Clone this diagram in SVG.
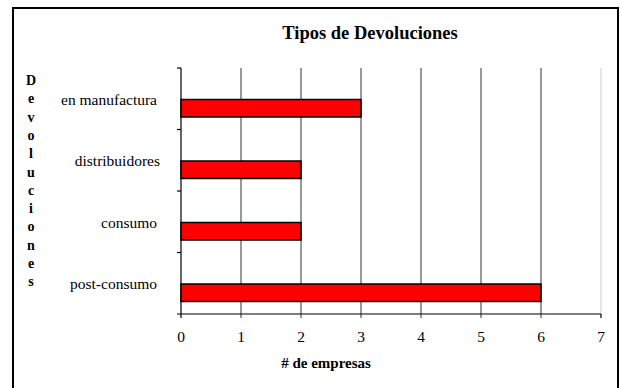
<svg xmlns="http://www.w3.org/2000/svg" width="620" height="388" viewBox="0 0 620 388">
<style>
.lbl{font-family:"Liberation Serif","Times New Roman",serif;font-size:15.5px;fill:#000}
.bold{font-family:"Liberation Serif","Times New Roman",serif;font-weight:bold;fill:#000}
.grid{stroke:#333;stroke-width:1}
.bar{fill:#FF0000;stroke:#000;stroke-width:1.5}
.axis{stroke:#000;stroke-width:1.2}
</style>
<rect x="0" y="0" width="620" height="388" fill="#fff"/>
<rect x="13" y="8" width="605" height="390" fill="#fff" stroke="#000" stroke-width="2"/>
<g id="title"><text class="bold" x="370" y="39" font-size="18.5" text-anchor="middle">Tipos de Devoluciones</text></g>
<g id="grid">
<line class="grid" x1="241" y1="68" x2="241" y2="318"/>
<line class="grid" x1="301" y1="68" x2="301" y2="318"/>
<line class="grid" x1="361" y1="68" x2="361" y2="318"/>
<line class="grid" x1="421" y1="68" x2="421" y2="318"/>
<line class="grid" x1="481" y1="68" x2="481" y2="318"/>
<line class="grid" x1="541" y1="68" x2="541" y2="318"/>
<line x1="601" y1="68" x2="601" y2="314" stroke="#ccc" stroke-width="1"/>
<line class="axis" x1="601" y1="314" x2="601" y2="318"/>
</g>
<g id="axes">
<line class="axis" x1="181" y1="68" x2="181" y2="318"/>
<line class="axis" x1="177" y1="314" x2="601" y2="314"/>
<line class="axis" x1="177" y1="68" x2="181" y2="68"/>
<line class="axis" x1="177" y1="129.5" x2="181" y2="129.5"/>
<line class="axis" x1="177" y1="191" x2="181" y2="191"/>
<line class="axis" x1="177" y1="252.5" x2="181" y2="252.5"/>
</g>
<g id="bar-en-manufactura"><rect class="bar" x="181" y="99.5" width="180" height="17.5"/><text class="lbl" x="157" y="104.5" text-anchor="end">en manufactura</text></g>
<g id="bar-distribuidores"><rect class="bar" x="181" y="161" width="120" height="17.5"/><text class="lbl" x="160" y="166" text-anchor="end">distribuidores</text></g>
<g id="bar-consumo"><rect class="bar" x="181" y="222.5" width="120" height="17.5"/><text class="lbl" x="157" y="227.5" text-anchor="end">consumo</text></g>
<g id="bar-post-consumo"><rect class="bar" x="181" y="284" width="360" height="17.5"/><text class="lbl" x="157" y="289" text-anchor="end">post-consumo</text></g>
<g id="x-ticks" class="lbl" text-anchor="middle">
<text x="181" y="342">0</text><text x="241" y="342">1</text><text x="301" y="342">2</text><text x="361" y="342">3</text><text x="421" y="342">4</text><text x="481" y="342">5</text><text x="541" y="342">6</text><text x="601" y="342">7</text>
</g>
<g id="x-title"><text class="bold" x="326" y="368" font-size="15" text-anchor="middle"># de empresas</text></g>
<g id="y-title" class="bold" font-size="14" text-anchor="middle">
<text x="31" y="85">D</text><text x="31" y="103.3">e</text><text x="31" y="121.6">v</text><text x="31" y="139.9">o</text><text x="31" y="158.2">l</text><text x="31" y="176.5">u</text><text x="31" y="194.8">c</text><text x="31" y="213.1">i</text><text x="31" y="231.4">o</text><text x="31" y="249.7">n</text><text x="31" y="268">e</text><text x="31" y="286.3">s</text>
</g>
</svg>
